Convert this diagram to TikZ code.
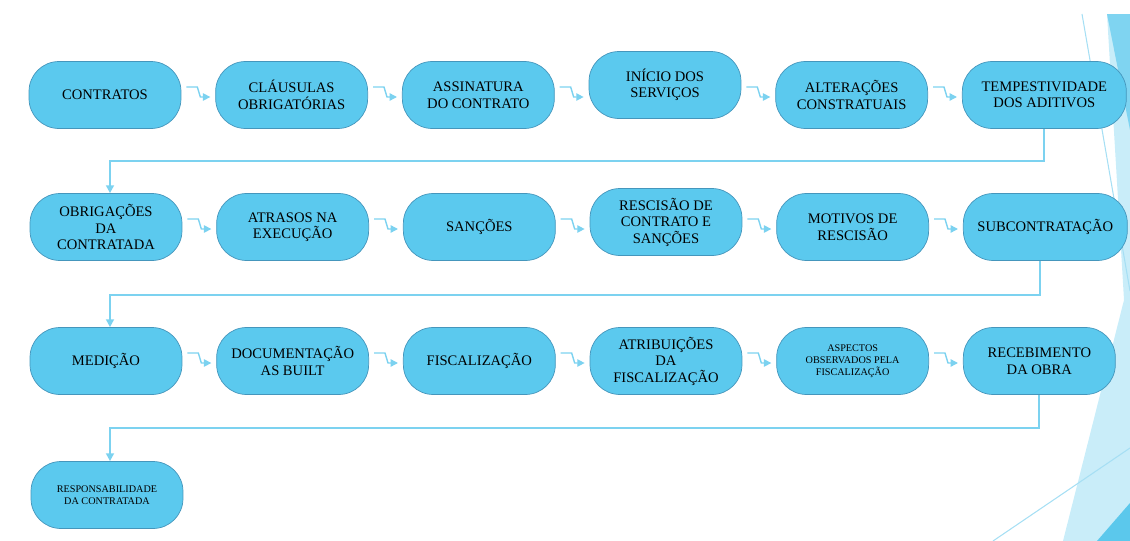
\documentclass[tikz,border=0pt]{standalone}
\usepackage{fontspec}
\setmainfont{Liberation Serif}
\usetikzlibrary{arrows.meta,positioning,calc}
\definecolor{boxblue}{HTML}{5BC9EE}
\definecolor{boxedge}{HTML}{4596BC}
\definecolor{linkblue}{HTML}{7CD2F0}
\definecolor{facetlight}{HTML}{C9EDF9}
\definecolor{facetmid}{HTML}{7FD4F1}
\definecolor{facetdark}{HTML}{5BC8EC}
\definecolor{facetline}{HTML}{A6DFF4}
\tikzset{
  topic/.style={
    rectangle,
    rounded corners=17pt,
    draw=boxedge,
    line width=0.4pt,
    fill=boxblue,
    align=center,
    minimum width=3.04cm,
    minimum height=1.34cm,
    inner sep=2pt,
    font=\fontsize{8.3}{9.4}\selectfont,
    text=black
  },
  wide topic/.style={topic, minimum width=3.28cm},
  small topic/.style={topic, font=\fontsize{5.8}{6.9}\selectfont},
  jog/.style={
    -{Triangle[length=4.2pt,width=4.2pt]},
    draw=linkblue,
    line width=0.8pt
  },
  link/.style={
    -{Triangle[length=4.5pt,width=4.5pt]},
    draw=linkblue,
    line width=1.1pt
  },
  facetstroke/.style={draw=facetline, line width=0.6pt}
}

\begin{document}
\begin{tikzpicture}[
  x=0.02cm, y=-0.02cm,
  node distance=0.68cm
]
\useasboundingbox (0,0) rectangle (1130,541);

% ---- Slide background facets ----
\fill[facetlight] (1107,14) -- (1130,14) -- (1130,541) -- (1063,541) -- (1124,300) -- cycle;
\fill[facetmid] (1107,14) -- (1130,14) -- (1130,130) -- cycle;
\fill[facetdark] (1130,503) -- (1130,541) -- (1097,541) -- cycle;
\draw[facetstroke] (1082,14) -- (1130,291);
\draw[facetstroke] (993,541) -- (1130,448);

% ---- Row 1 ----
\node[topic] (contratos) at (105,95) {CONTRATOS};
\node[topic, right=of contratos] (clausulas) {CLÁUSULAS\\OBRIGATÓRIAS};
\node[topic, right=of clausulas] (assinatura) {ASSINATURA\\DO CONTRATO};
\node[topic, right=of assinatura, yshift=0.2cm] (inicio) {INÍCIO DOS\\SERVIÇOS};
\node[topic, right=of inicio, yshift=-0.2cm] (alteracoes) {ALTERAÇÕES\\CONSTRATUAIS};
\node[wide topic, right=of alteracoes] (tempestividade) {TEMPESTIVIDADE\\DOS ADITIVOS};

% ---- Row 2 ----
\node[topic] (obrigacoes) at (106,227) {OBRIGAÇÕES\\DA\\CONTRATADA};
\node[topic, right=of obrigacoes] (atrasos) {ATRASOS NA\\EXECUÇÃO};
\node[topic, right=of atrasos] (sancoes) {SANÇÕES};
\node[topic, right=of sancoes, yshift=0.1cm] (rescisao) {RESCISÃO DE\\CONTRATO E\\SANÇÕES};
\node[topic, right=of rescisao, yshift=-0.1cm] (motivos) {MOTIVOS DE\\RESCISÃO};
\node[wide topic, right=of motivos] (subcontratacao) {SUBCONTRATAÇÃO};

% ---- Row 3 ----
\node[topic] (medicao) at (106,361) {MEDIÇÃO};
\node[topic, right=of medicao] (documentacao) {DOCUMENTAÇÃO\\AS BUILT};
\node[topic, right=of documentacao] (fiscalizacao) {FISCALIZAÇÃO};
\node[topic, right=of fiscalizacao] (atribuicoes) {ATRIBUIÇÕES\\DA\\FISCALIZAÇÃO};
\node[small topic, right=of atribuicoes] (aspectos) {ASPECTOS\\OBSERVADOS PELA\\FISCALIZAÇÃO};
\node[topic, right=of aspectos] (recebimento) {RECEBIMENTO\\DA OBRA};

% ---- Row 4 ----
\node[small topic] (responsabilidade) at (107,495) {RESPONSABILIDADE\\DA CONTRATADA};

% ---- Short bent arrows inside each row ----
\draw[jog] ($(contratos.east)+(5,-8)$) -- ++(11,0) -- ++(3,10) -- ($(contratos.east -| clausulas.west)+(-5,2)$);
\draw[jog] ($(clausulas.east)+(5,-8)$) -- ++(11,0) -- ++(3,10) -- ($(clausulas.east -| assinatura.west)+(-5,2)$);
\draw[jog] ($(assinatura.east)+(5,-8)$) -- ++(11,0) -- ++(3,10) -- ($(assinatura.east -| inicio.west)+(-5,2)$);
\draw[jog] ($(alteracoes.west -| inicio.east)+(5,-8)$) -- ++(11,0) -- ++(3,10) -- ($(alteracoes.west)+(-5,2)$);
\draw[jog] ($(alteracoes.east)+(5,-8)$) -- ++(11,0) -- ++(3,10) -- ($(alteracoes.east -| tempestividade.west)+(-5,2)$);

\draw[jog] ($(obrigacoes.east)+(5,-8)$) -- ++(11,0) -- ++(3,10) -- ($(obrigacoes.east -| atrasos.west)+(-5,2)$);
\draw[jog] ($(atrasos.east)+(5,-8)$) -- ++(11,0) -- ++(3,10) -- ($(atrasos.east -| sancoes.west)+(-5,2)$);
\draw[jog] ($(sancoes.east)+(5,-8)$) -- ++(11,0) -- ++(3,10) -- ($(sancoes.east -| rescisao.west)+(-5,2)$);
\draw[jog] ($(motivos.west -| rescisao.east)+(5,-8)$) -- ++(11,0) -- ++(3,10) -- ($(motivos.west)+(-5,2)$);
\draw[jog] ($(motivos.east)+(5,-8)$) -- ++(11,0) -- ++(3,10) -- ($(motivos.east -| subcontratacao.west)+(-5,2)$);

\draw[jog] ($(medicao.east)+(5,-8)$) -- ++(11,0) -- ++(3,10) -- ($(medicao.east -| documentacao.west)+(-5,2)$);
\draw[jog] ($(documentacao.east)+(5,-8)$) -- ++(11,0) -- ++(3,10) -- ($(documentacao.east -| fiscalizacao.west)+(-5,2)$);
\draw[jog] ($(fiscalizacao.east)+(5,-8)$) -- ++(11,0) -- ++(3,10) -- ($(fiscalizacao.east -| atribuicoes.west)+(-5,2)$);
\draw[jog] ($(atribuicoes.east)+(5,-8)$) -- ++(11,0) -- ++(3,10) -- ($(atribuicoes.east -| aspectos.west)+(-5,2)$);
\draw[jog] ($(aspectos.east)+(5,-8)$) -- ++(11,0) -- ++(3,10) -- ($(aspectos.east -| recebimento.west)+(-5,2)$);

% ---- Wrap from the end of each row to the start of the next ----
\draw[link] (tempestividade.south) -- ++(0,32) -| ([xshift=0.08cm]obrigacoes.north);
\draw[link] ([xshift=-0.1cm]subcontratacao.south) -- ++(0,34) -| ([xshift=0.08cm]medicao.north);
\draw[link] (recebimento.south) -- ++(0,33) -| ([xshift=0.06cm]responsabilidade.north);

\end{tikzpicture}
\end{document}
